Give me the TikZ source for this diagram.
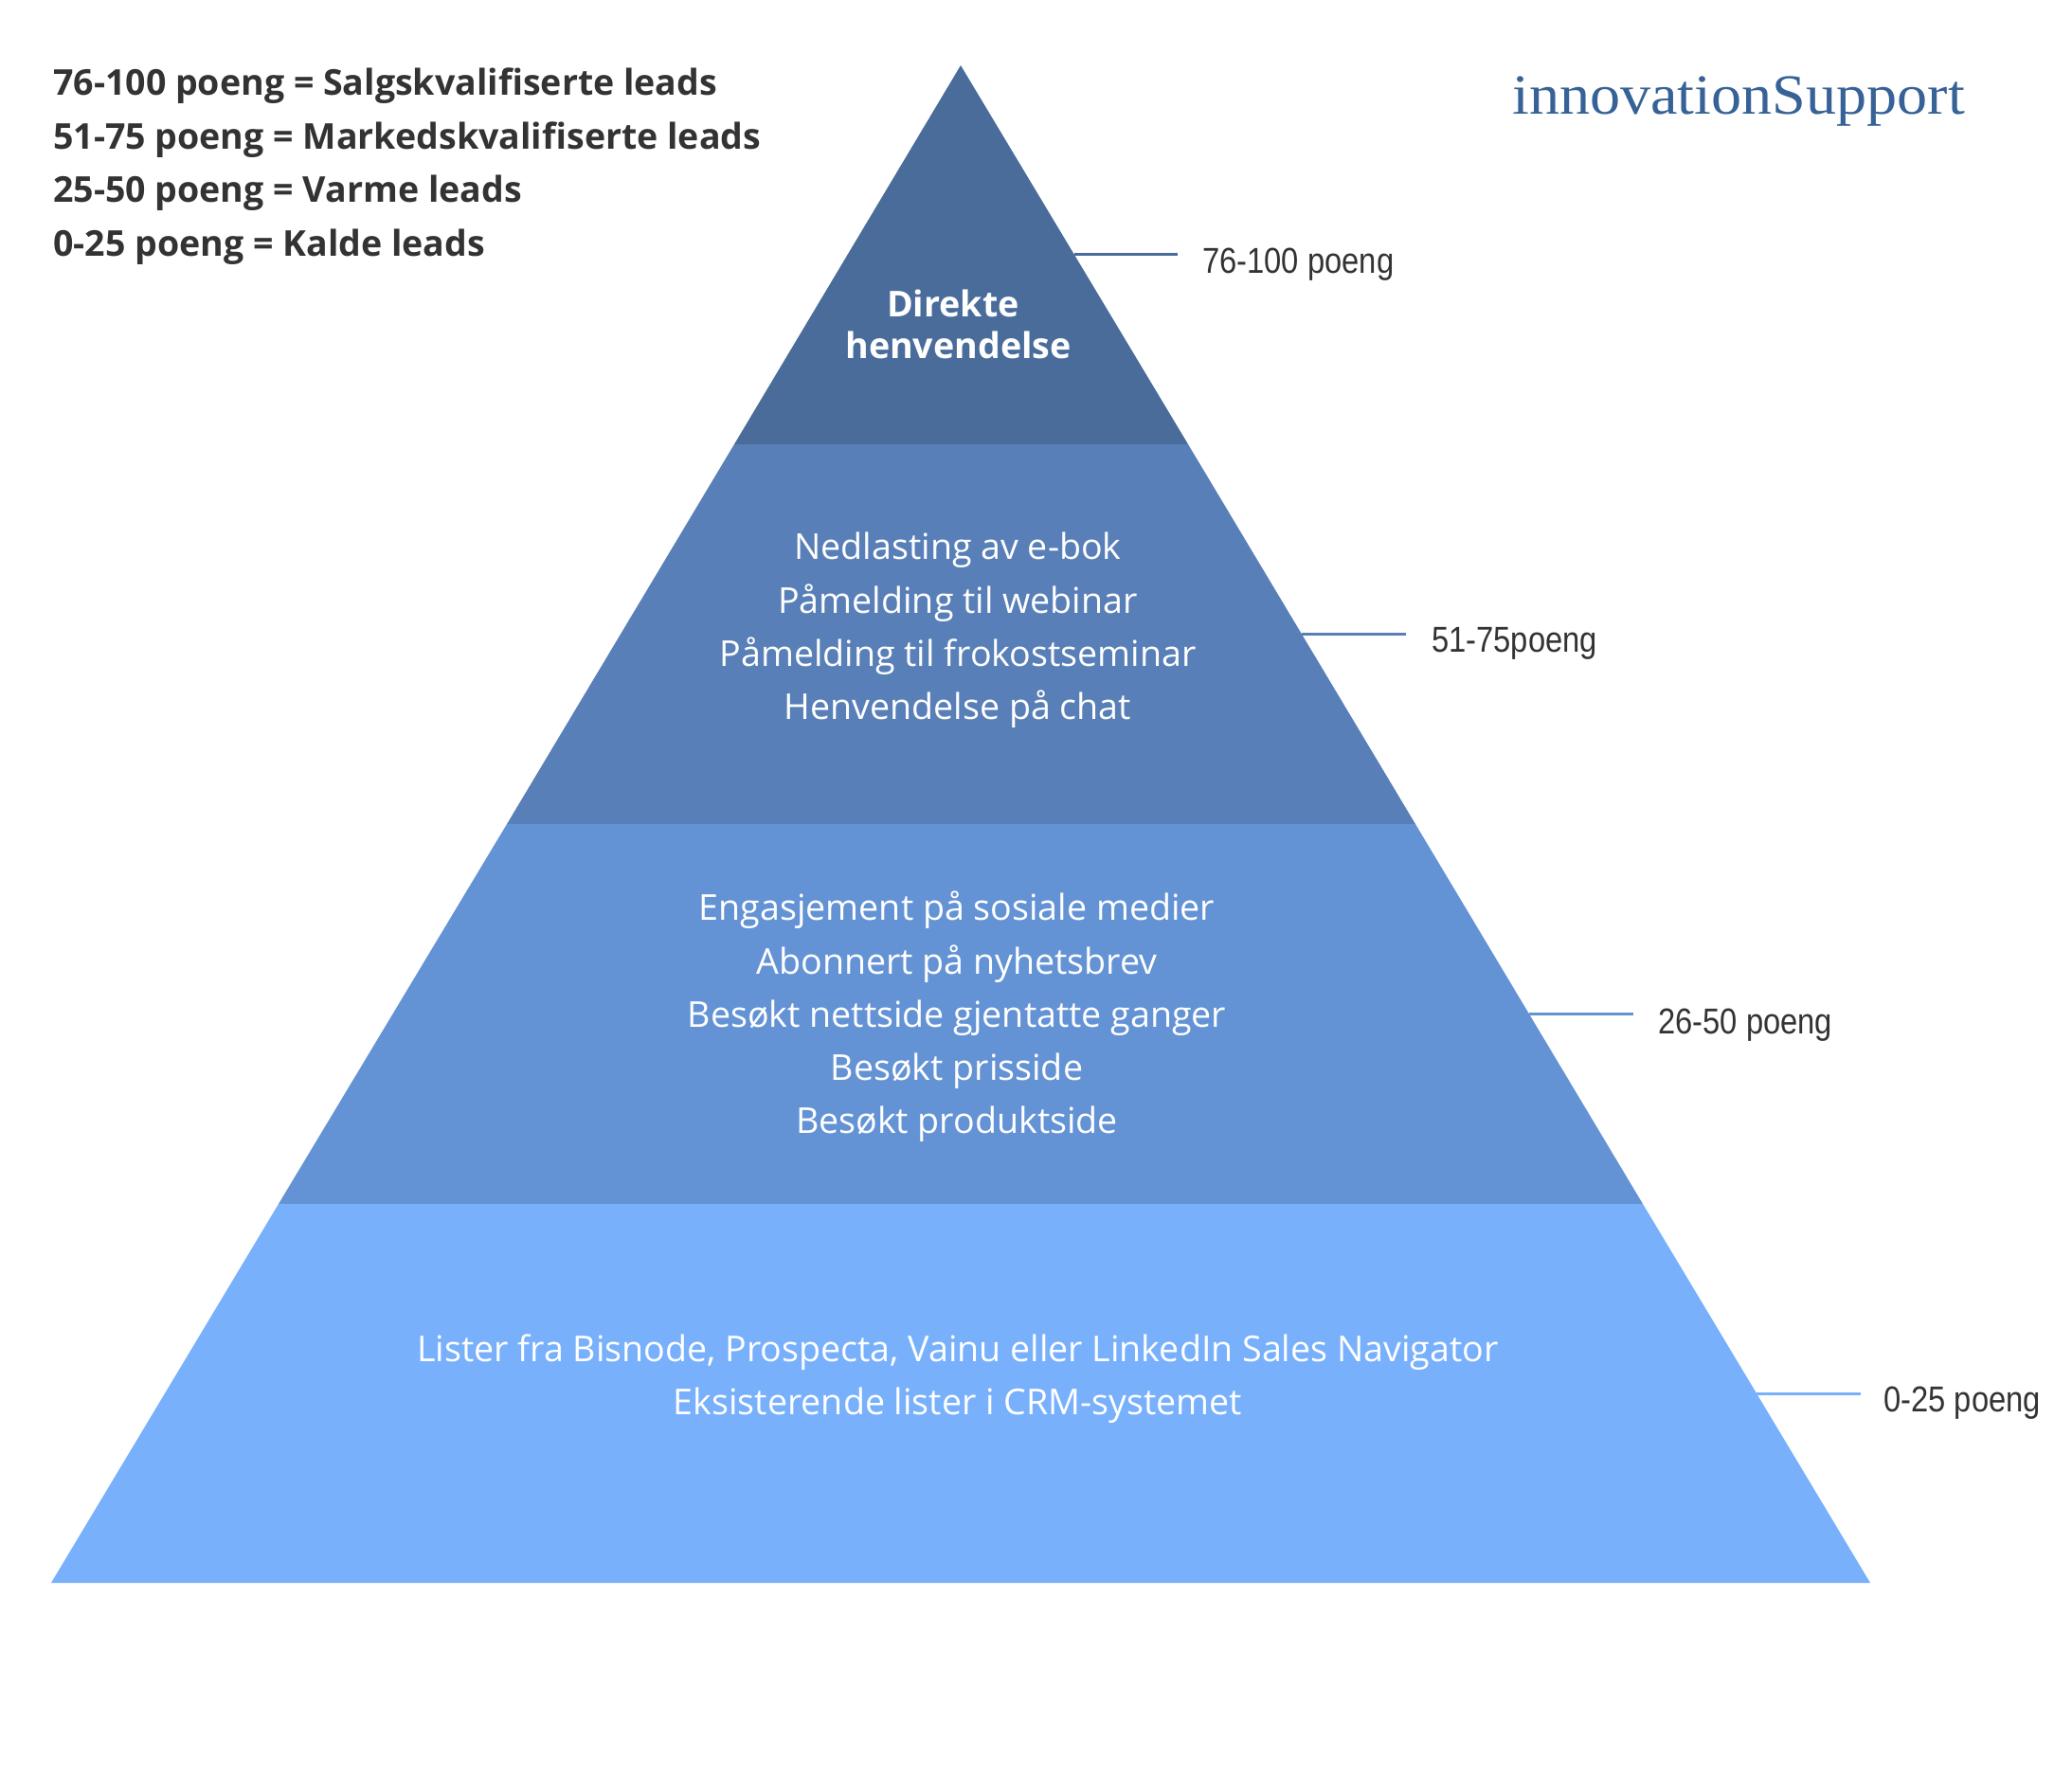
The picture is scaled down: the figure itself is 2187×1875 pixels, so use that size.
\documentclass[tikz,border=0pt]{standalone}
\usepackage{fontspec}
\setmainfont{Open Sans}
\newfontfamily\labelfont[FakeStretch=0.862]{Liberation Sans}
\newfontfamily\logofont[FakeStretch=1.07]{Liberation Serif}
\definecolor{layerA}{HTML}{496C9B}
\definecolor{layerB}{HTML}{587FB7}
\definecolor{layerC}{HTML}{6493D5}
\definecolor{layerD}{HTML}{78B0FC}
\definecolor{inktext}{HTML}{333333}
\definecolor{logoblue}{HTML}{376297}
\tikzset{
  x=1pt,y=-1pt,
  layertext/.style={text=white,align=center,inner sep=0pt,font=\fontsize{37.6}{56.3}\selectfont},
  legendtext/.style={text=inktext,align=left,anchor=north west,inner sep=0pt,font=\fontsize{37.55}{56.6}\selectfont\bfseries},
  sidelabel/.style={text=inktext,anchor=west,inner sep=0pt,font=\labelfont\fontsize{38}{40}\selectfont},
  leader/.style={line width=3pt}
}
\begin{document}
\begin{tikzpicture}
\useasboundingbox (0,0) rectangle (2187,1875);
\fill[white] (0,0) rectangle (2187,1875);
% pyramid layers
\coordinate (apex) at (1014,69);
\fill[layerA] (apex) -- (1254,469) -- (775,469) -- cycle;
\fill[layerB] (775,469) -- (1254,469) -- (1494,870) -- (535,870) -- cycle;
\fill[layerC] (535,870) -- (1494,870) -- (1734,1271) -- (294,1271) -- cycle;
\fill[layerD] (294,1271) -- (1734,1271) -- (1974,1671) -- (54,1671) -- cycle;
% layer texts
\node[layertext,font=\fontsize{37.6}{43.5}\selectfont\bfseries] (t1) at (1011.5,342.5) {Direkte\hspace*{11pt}\\henvendelse};
\node[layertext] (t2) at (1011,665.5) {Nedlasting av e-bok\\Påmelding til webinar\\Påmelding til frokostseminar\\Henvendelse på chat};
\node[layertext] (t3) at (1010,1073.5) {Engasjement på sosiale medier\\Abonnert på nyhetsbrev\\Besøkt nettside gjentatte ganger\\Besøkt prisside\\Besøkt produktside};
\node[layertext] (t4) at (1011,1455.5) {Lister fra Bisnode, Prospecta, Vainu eller LinkedIn Sales Navigator\\Eksisterende lister i CRM-systemet};
% side labels
\node[sidelabel] (l1) at (1269,279) {76-100 poeng};
\node[sidelabel] (l2) at (1511,679) {51-75poeng};
\node[sidelabel] (l3) at (1750,1082) {26-50 poeng};
\node[sidelabel] (l4) at (1988,1481) {0-25 poeng};
% leaders
\coordinate (s1) at (1134,268); \coordinate (e1) at (1243,268);
\coordinate (s2) at (1374,669.5); \coordinate (e2) at (1484,669.5);
\coordinate (s3) at (1614,1070); \coordinate (e3) at (1724,1070);
\coordinate (s4) at (1854,1471); \coordinate (e4) at (1964,1471);
\draw[leader,layerA] (s1) -- (e1);
\draw[leader,layerB] (s2) -- (e2);
\draw[leader,layerC] (s3) -- (e3);
\draw[leader,layerD] (s4) -- (e4);
% legend
\node[legendtext] (legend) at (56,71.5) {76-100 poeng = Salgskvalifiserte leads\\51-75 poeng = Markedskvalifiserte leads\\25-50 poeng = Varme leads\\0-25 poeng = Kalde leads};
% logo
\node[text=logoblue,anchor=west,inner sep=0pt,font=\logofont\fontsize{60}{60}\selectfont] (logo) at (1596,107) {innovationSupport};
\end{tikzpicture}
\end{document}
